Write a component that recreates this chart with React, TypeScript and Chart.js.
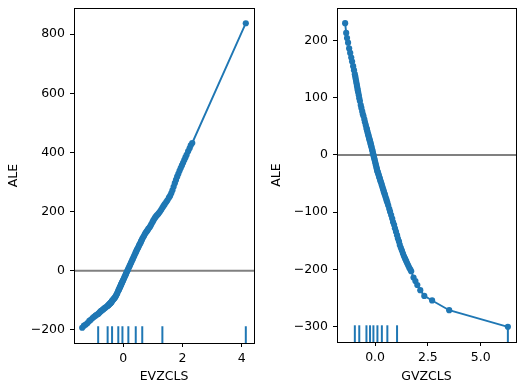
import React, { useEffect, useRef } from "react";
import { Chart, registerables } from "chart.js";

Chart.register(...registerables);

// ---- EVZCLS (left panel) ----
const evzX = [
  -1.39, -1.33, -1.27, -1.21, -1.15, -1.1, -1.04, -0.99, -0.94, -0.9, -0.85,
  -0.82, -0.79, -0.76, -0.73, -0.7, -0.67, -0.64, -0.61, -0.57, -0.53,
  -0.51, -0.5, -0.48, -0.46, -0.45, -0.43, -0.42, -0.4, -0.39, -0.38,
  -0.36, -0.34, -0.32, -0.3, -0.28, -0.26, -0.24, -0.22, -0.2, -0.17,
  -0.16, -0.14, -0.13, -0.11, -0.1, -0.08, -0.07, -0.06, -0.04, -0.03,
  -0.01, 0.01, 0.03, 0.05, 0.07, 0.09, 0.11, 0.13, 0.15, 0.17,
  0.2, 0.22, 0.25, 0.27, 0.3, 0.32, 0.35, 0.37, 0.4, 0.42,
  0.44, 0.46, 0.49, 0.51, 0.53, 0.55, 0.58, 0.6, 0.62, 0.64,
  0.67, 0.7, 0.73, 0.76, 0.79, 0.82, 0.85, 0.89, 0.92, 0.95,
  0.99, 1.02, 1.06, 1.09, 1.13, 1.17, 1.2, 1.24, 1.28, 1.32,
  1.36, 1.4, 1.45, 1.49, 1.54, 1.58, 1.62, 1.66, 1.7, 1.74,
  1.78, 1.82, 1.86, 1.9, 1.94, 1.98, 2.02, 2.06, 2.1, 2.14,
  2.19, 2.24, 2.28, 2.33, 4.14,
];
const evzY = [
  -193, -186, -182, -177, -170, -166, -160, -156, -152, -149, -146,
  -143, -140, -137, -135, -132, -130, -127, -125, -122, -119,
  -117, -116, -114, -112, -111, -109, -108, -106, -104, -102,
  -100, -97, -95, -93, -90, -87, -83, -79, -75, -68,
  -66, -62, -59, -55, -53, -48, -46, -44, -39, -37,
  -33, -29, -24, -20, -15, -11, -6, -2, 2, 7,
  13, 18, 24, 29, 35, 40, 46, 51, 57, 62,
  66, 71, 76, 80, 85, 89, 94, 99, 103, 108,
  113, 118, 124, 129, 133, 137, 142, 147, 152, 158,
  165, 171, 177, 182, 187, 191, 195, 200, 206, 213,
  219, 225, 232, 238, 247, 253, 262, 272, 284, 296,
  307, 318, 328, 338, 347, 356, 365, 374, 383, 392,
  404, 414, 424, 432, 837,
];
const evzRug = [-0.85, -0.53, -0.38, -0.17, -0.03, 0.17, 0.42, 0.64, 1.32, 4.14];
const evzXTicks = [0, 2, 4];
const evzYTicks = [-200, 0, 200, 400, 600, 800];

// ---- GVZCLS (right panel) ----
const gvzX = [
  -1.42, -1.37, -1.33, -1.28, -1.23, -1.18, -1.13, -1.09, -1.04, -1.0, -0.96,
  -0.94, -0.92, -0.9, -0.88, -0.86, -0.84, -0.82, -0.8, -0.77, -0.75,
  -0.72, -0.68, -0.65, -0.61, -0.58, -0.55, -0.51, -0.48, -0.44, -0.41,
  -0.39, -0.38, -0.36, -0.34, -0.32, -0.31, -0.29, -0.27, -0.26, -0.24,
  -0.22, -0.21, -0.19, -0.18, -0.16, -0.14, -0.13, -0.11, -0.1, -0.08,
  -0.06, -0.04, -0.02, 0.0, 0.02, 0.04, 0.06, 0.08, 0.09, 0.11,
  0.13, 0.15, 0.17, 0.19, 0.21, 0.23, 0.25, 0.27, 0.3, 0.32,
  0.35, 0.37, 0.4, 0.42, 0.45, 0.47, 0.5, 0.53, 0.55, 0.58,
  0.62, 0.67, 0.71, 0.76, 0.81, 0.85, 0.9, 0.94, 0.99, 1.04,
  1.08, 1.13, 1.17, 1.22, 1.27, 1.32, 1.37, 1.42, 1.47, 1.52,
  1.57, 1.62, 1.67, 1.71, 1.82, 1.91, 2.0, 2.14, 2.33, 2.7, 3.51, 6.29,
];
const gvzY = [
  230, 213, 204, 196, 186, 178, 170, 163, 155, 148, 141,
  137, 133, 129, 125, 121, 117, 113, 109, 104, 99,
  94, 87, 82, 76, 71, 68, 62, 57, 52, 47,
  45, 43, 40, 37, 35, 33, 30, 28, 26, 24,
  21, 19, 17, 15, 12, 9, 8, 4, 3, 0,
  -3, -6, -9, -12, -15, -18, -21, -24, -26, -29,
  -30, -33, -35, -38, -40, -42, -45, -47, -50, -53,
  -56, -59, -62, -65, -68, -70, -74, -77, -80, -83,
  -88, -94, -99, -105, -111, -117, -122, -128, -134, -140,
  -146, -151, -157, -162, -167, -172, -177, -181, -185, -189,
  -193, -197, -200, -203, -214, -220, -227, -236, -246, -254, -271, -300,
];
const gvzRug = [-0.96, -0.75, -0.41, -0.24, -0.08, 0.11, 0.32, 0.58, 1.04, 6.29];
const gvzXTicks = [0, 2.5, 5];
const gvzYTicks = [-300, -200, -100, 0, 100, 200];

const BLUE = "#1f77b4";
const FONT = { family: "DejaVu Sans", size: 12.5 };

const fmtInt = (v: number) => (v < 0 ? "\u2212" + Math.abs(v) : String(v));
const fmtOne = (v: number) => (v < 0 ? "\u2212" + Math.abs(v).toFixed(1) : v.toFixed(1));

const alePlugin = {
  id: "ale",
  beforeDatasetsDraw(chart: any, _args: any, opts: any) {
    const { ctx, chartArea, scales } = chart;
    const { left, right, top, bottom } = chartArea;
    const y0 = scales.y.getPixelForValue(0);
    ctx.save();
    ctx.beginPath();
    ctx.rect(left, top, right - left, bottom - top);
    ctx.clip();
    ctx.strokeStyle = "#808080";
    ctx.lineWidth = 1.9;
    ctx.beginPath();
    ctx.moveTo(left, y0);
    ctx.lineTo(right, y0);
    ctx.stroke();
    const h = (bottom - top) * 0.05;
    ctx.strokeStyle = BLUE;
    ctx.lineWidth = 2;
    for (const v of opts.rug || []) {
      const px = scales.x.getPixelForValue(v);
      ctx.beginPath();
      ctx.moveTo(px, bottom);
      ctx.lineTo(px, bottom - h);
      ctx.stroke();
    }
    ctx.restore();
  },
  afterDraw(chart: any) {
    const { ctx, chartArea } = chart;
    const { left, right, top, bottom } = chartArea;
    ctx.save();
    ctx.strokeStyle = "#000";
    ctx.lineWidth = 1;
    ctx.strokeRect(Math.round(left) + 0.5, Math.round(top) + 0.5, Math.round(right - left), Math.round(bottom - top));
    ctx.restore();
  },
};

interface PanelProps {
  xs: number[];
  ys: number[];
  rug: number[];
  xTicks: number[];
  yTicks: number[];
  xMin: number;
  xMax: number;
  yMin: number;
  yMax: number;
  xLabel: string;
  xFmt: (v: number) => string;
  width: number;
  yAxisWidth: number;
  xAxisHeight: number;
  padRight: number;
  titleLeftPad: number;
}

function Panel(p: PanelProps) {
  const ref = useRef<HTMLCanvasElement>(null);
  useEffect(() => {
    if (!ref.current) return;
    const data = p.xs.map((x, i) => ({ x, y: p.ys[i] }));
    const chart = new Chart(ref.current, {
      type: "scatter",
      data: {
        datasets: [
          {
            data,
            showLine: true,
            borderColor: BLUE,
            backgroundColor: BLUE,
            borderWidth: 1.9,
            pointRadius: 3.1,
            pointBorderWidth: 0,
            pointBackgroundColor: BLUE,
          },
        ],
      },
      options: {
        responsive: false,
        animation: false,
        devicePixelRatio: 1,
        layout: { padding: { left: 0, top: 8, right: p.padRight, bottom: 0 } },
        plugins: {
          legend: { display: false },
          tooltip: { enabled: false },
          ale: { rug: p.rug },
        } as any,
        scales: {
          x: {
            type: "linear",
            min: p.xMin,
            max: p.xMax,
            afterBuildTicks: (s: any) => {
              s.ticks = p.xTicks.map((v) => ({ value: v }));
            },
            afterFit: (s: any) => {
              s.height = p.xAxisHeight;
              s.paddingLeft = 0;
              s.paddingRight = 0;
            },
            ticks: {
              callback: (v: any) => p.xFmt(Number(v)),
              font: FONT,
              color: "#000",
              padding: 4,
              maxRotation: 0,
              autoSkip: false,
            },
            grid: { drawOnChartArea: false, drawTicks: true, tickLength: 4, color: "#000" },
            border: { display: false },
            title: {
              display: true,
              text: p.xLabel,
              font: FONT,
              color: "#000",
              padding: { top: 0, bottom: 3.5 },
            },
          },
          y: {
            type: "linear",
            min: p.yMin,
            max: p.yMax,
            afterBuildTicks: (s: any) => {
              s.ticks = p.yTicks.map((v) => ({ value: v }));
            },
            afterFit: (s: any) => {
              s.width = p.yAxisWidth;
              s.paddingTop = 0;
              s.paddingBottom = 0;
            },
            ticks: {
              callback: (v: any) => fmtInt(Number(v)),
              font: FONT,
              color: "#000",
              padding: 5,
              autoSkip: false,
            },
            grid: { drawOnChartArea: false, drawTicks: true, tickLength: 4, color: "#000" },
            border: { display: false },
            title: {
              display: true,
              text: "ALE",
              font: FONT,
              color: "#000",
              padding: { top: p.titleLeftPad, bottom: 0 },
            },
          },
        },
      },
      plugins: [alePlugin],
    } as any);
    return () => chart.destroy();
  }, []);
  return <canvas ref={ref} width={p.width} height={388} style={{ display: "block" }} />;
}

export default function App() {
  return (
    <div
      style={{
        position: "absolute",
        left: 0,
        top: 0,
        width: 529,
        height: 388,
        display: "flex",
        background: "#fff",
      }}
    >
      <Panel
        xs={evzX}
        ys={evzY}
        rug={evzRug}
        xTicks={evzXTicks}
        yTicks={evzYTicks}
        xMin={-1.667}
        xMax={4.417}
        yMin={-244.5}
        yMax={888.5}
        xLabel="EVZCLS"
        xFmt={fmtInt}
        width={265}
        yAxisWidth={74}
        xAxisHeight={45}
        padRight={11}
        titleLeftPad={6.5}
      />
      <Panel
        xs={gvzX}
        ys={gvzY}
        rug={gvzRug}
        xTicks={gvzXTicks}
        yTicks={gvzYTicks}
        xMin={-1.805}
        xMax={6.675}
        yMin={-326.5}
        yMax={256.5}
        xLabel="GVZCLS"
        xFmt={fmtOne}
        width={264}
        yAxisWidth={72}
        xAxisHeight={46}
        padRight={13}
        titleLeftPad={4.5}
      />
    </div>
  );
}
